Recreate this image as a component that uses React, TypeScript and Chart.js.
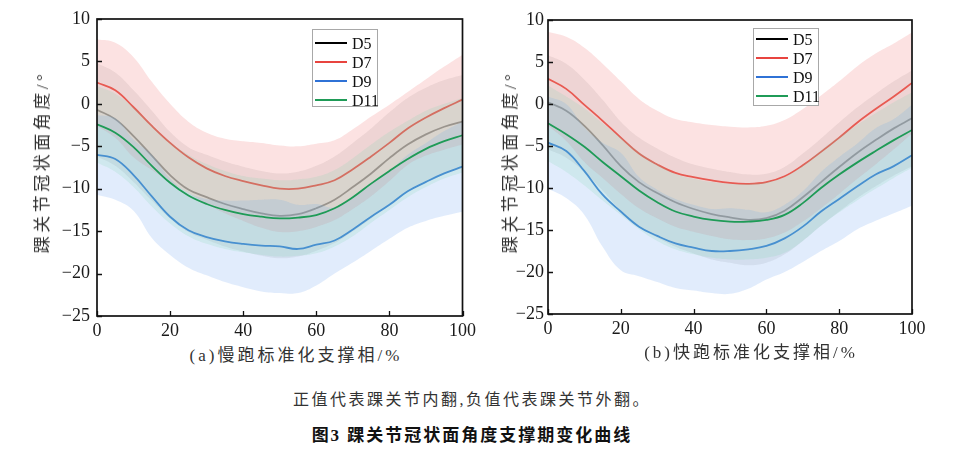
import React, { useEffect, useRef } from 'react';
import { Chart, registerables } from 'chart.js';

Chart.register(...registerables);

// ---------- data ----------
const PHASE = [0, 5, 10, 15, 20, 25, 30, 35, 40, 45, 50, 55, 60, 65, 70, 75, 80, 85, 90, 95, 100];
const X_TICKS = [0, 20, 40, 60, 80, 100];
const Y_TICKS = [10, 5, 0, -5, -10, -15, -20, -25];
const SERIES_NAMES = ['D5', 'D7', 'D9', 'D11'];

// (a) slow running – mean and spread
const SLOW_D5 = [-0.7, -1.8, -3.8, -6.1, -8.4, -10.1, -11.0, -11.8, -12.4, -12.9, -13.2, -13.0, -12.3, -11.3, -9.8, -8.2, -6.4, -4.8, -3.6, -2.7, -2.1];
const SLOW_D5_SD = [5.5, 5.5, 5.4, 5.3, 5.1, 5.0, 5.0, 5.0, 5.0, 5.0, 5.0, 5.0, 5.0, 5.1, 5.2, 5.3, 5.4, 5.5, 5.5, 5.5, 5.5];
const SLOW_D7 = [2.5, 1.6, -0.4, -2.6, -4.6, -6.3, -7.6, -8.5, -9.1, -9.6, -10.0, -10.0, -9.6, -9.0, -7.7, -6.2, -4.6, -2.9, -1.6, -0.5, 0.5];
const SLOW_D7_SD = [5.1, 5.6, 5.9, 5.2, 4.6, 4.2, 4.2, 4.4, 4.7, 5.0, 5.1, 5.0, 4.9, 4.7, 4.7, 4.7, 4.5, 4.3, 4.5, 4.9, 5.3];
const SLOW_D9 = [-6.0, -6.5, -8.4, -10.9, -13.3, -14.9, -15.7, -16.2, -16.5, -16.7, -16.8, -17.1, -16.6, -16.1, -14.8, -13.3, -11.9, -10.3, -9.2, -8.2, -7.4];
const SLOW_D9_SD = [4.7, 4.8, 4.2, 4.9, 4.5, 4.4, 4.5, 4.8, 5.1, 5.4, 5.5, 5.2, 4.8, 3.9, 3.9, 4.0, 4.0, 4.3, 4.6, 5.0, 5.3];
const SLOW_D11 = [-2.4, -3.4, -5.1, -7.3, -9.3, -10.8, -11.8, -12.5, -13.0, -13.3, -13.5, -13.4, -13.1, -12.3, -11.0, -9.4, -7.9, -6.5, -5.3, -4.4, -3.7];
const SLOW_D11_SD = [4.5, 4.6, 4.7, 4.8, 4.8, 4.8, 4.7, 4.6, 4.5, 4.5, 4.5, 4.5, 4.5, 4.5, 4.6, 4.6, 4.6, 4.5, 4.5, 4.4, 4.4];

// (b) fast running – mean and spread
const FAST_D5 = [0.2, -0.8, -2.6, -4.9, -7.4, -9.3, -10.6, -11.7, -12.5, -13.1, -13.5, -13.8, -13.6, -12.7, -11.1, -9.3, -7.5, -5.8, -4.3, -2.9, -1.7];
const FAST_D5_SD = [5.6, 5.6, 5.5, 5.4, 5.3, 5.3, 5.3, 5.3, 5.3, 5.4, 5.4, 5.4, 5.3, 5.2, 5.2, 5.2, 5.3, 5.4, 5.5, 5.6, 5.7];
const FAST_D7 = [3.0, 1.8, -0.1, -2.0, -4.0, -5.9, -7.2, -8.2, -8.7, -9.1, -9.4, -9.5, -9.3, -8.6, -7.3, -5.7, -4.0, -2.2, -0.6, 0.9, 2.5];
const FAST_D7_SD = [5.6, 6.2, 6.8, 6.8, 6.7, 6.5, 6.4, 6.4, 6.5, 6.6, 6.7, 6.7, 6.7, 6.7, 6.7, 6.7, 6.7, 6.7, 6.6, 6.3, 6.0];
const FAST_D9 = [-4.6, -5.6, -8.0, -10.8, -12.8, -14.6, -15.7, -16.6, -17.1, -17.5, -17.5, -17.3, -16.9, -16.0, -14.6, -12.8, -11.3, -9.8, -8.4, -7.4, -6.1];
const FAST_D9_SD = [5.5, 5.6, 5.2, 6.2, 7.0, 5.9, 5.5, 5.3, 5.1, 5.0, 5.1, 4.7, 4.0, 4.0, 4.2, 4.7, 5.0, 5.1, 5.5, 5.6, 6.0];
const FAST_D11 = [-2.3, -3.6, -5.1, -6.9, -8.6, -10.3, -11.7, -12.8, -13.4, -13.8, -14.0, -14.0, -13.8, -13.2, -11.8, -10.0, -8.4, -6.95, -5.6, -4.3, -3.1];
const FAST_D11_SD = [4.5, 4.5, 4.6, 4.6, 4.6, 4.6, 4.6, 4.5, 4.5, 4.5, 4.5, 4.5, 4.5, 4.5, 4.5, 4.5, 4.5, 4.5, 4.5, 4.5, 4.5];

// ---------- styles ----------
const LEGEND_COLORS = ['#000000', '#e8443f', '#2f72d6', '#1f9b57'];
const LINE_COLORS = ['#8e8e8e', '#e85a52', '#3d82d8', '#1f9b57'];
const BAND_COLORS = [
  'rgba(110,110,110,0.12)',
  'rgba(240,110,110,0.20)',
  'rgba(120,170,240,0.22)',
  'rgba(120,210,170,0.18)',
];
const SERIF = '"Liberation Serif", "Times New Roman", "Noto Sans CJK SC", serif';
const TEXT_FONT = '"Liberation Serif", "Noto Sans CJK SC", serif';

const pts = (ys: number[]) => PHASE.map((x, i) => ({ x, y: ys[i] }));

const framePlugin = {
  id: 'frameTicks',
  afterDraw(chart: any) {
    const { ctx, chartArea, scales } = chart;
    const { left, right, top, bottom } = chartArea;
    const xs = scales.x;
    const ys = scales.y;
    ctx.save();
    ctx.strokeStyle = '#111';
    ctx.lineWidth = 1.3;
    ctx.beginPath();
    xs.ticks.forEach((t: any) => {
      const px = Math.round(xs.getPixelForValue(t.value)) + 0.5;
      ctx.moveTo(px, bottom);
      ctx.lineTo(px, bottom - 5);
    });
    ys.ticks.forEach((t: any) => {
      const py = Math.round(ys.getPixelForValue(t.value)) + 0.5;
      ctx.moveTo(left, py);
      ctx.lineTo(left + 5, py);
    });
    ctx.stroke();
    ctx.lineWidth = 1.7;
    ctx.strokeRect(left, top, right - left, bottom - top);
    ctx.restore();
  },
};

type PanelProps = {
  means: number[][];
  sds: number[][];
  left: number;
  width: number;
  height: number;
  area: { left: number; top: number; right: number; bottom: number };
  yPad: number;
};

function ChartPanel({ means, sds, left, width, height, area, yPad }: PanelProps) {
  const ref = useRef<HTMLCanvasElement | null>(null);
  useEffect(() => {
    if (!ref.current) return;
    const datasets: any[] = [];
    means.forEach((m, s) => {
      const base = (means.length - 1 - s) * 2;
      const lower = m.map((v, i) => v - sds[s][i]);
      const upper = m.map((v, i) => v + sds[s][i]);
      datasets.push({
        label: SERIES_NAMES[s] + ' lower',
        data: pts(lower),
        borderWidth: 0,
        pointRadius: 0,
        fill: false,
        tension: 0.4,
        order: base + 1,
      });
      datasets.push({
        label: SERIES_NAMES[s] + ' upper',
        data: pts(upper),
        borderWidth: 0,
        pointRadius: 0,
        backgroundColor: BAND_COLORS[s],
        fill: '-1',
        tension: 0.4,
        order: base + 1,
      });
      datasets.push({
        label: SERIES_NAMES[s],
        data: pts(m),
        borderColor: LINE_COLORS[s],
        borderWidth: 1.8,
        pointRadius: 0,
        fill: false,
        tension: 0.4,
        order: base,
      });
    });
    const chart = new Chart(ref.current, {
      type: 'line',
      data: { datasets },
      plugins: [framePlugin],
      options: {
        animation: false,
        responsive: false,
        maintainAspectRatio: false,
        layout: { padding: { left: 0, top: area.top, right: width - area.right, bottom: 0 } },
        plugins: {
          legend: { display: false },
          tooltip: { enabled: false },
          filler: { propagate: false },
        },
        scales: {
          x: {
            type: 'linear',
            min: 0,
            max: 100,
            grid: { display: false, drawTicks: false },
            border: { display: false },
            afterBuildTicks: (s: any) => {
              s.ticks = X_TICKS.map((v) => ({ value: v }));
            },
            afterFit: (s: any) => {
              s.height = height - area.bottom;
            },
            ticks: {
              padding: 4,
              color: '#1a1a1a',
              font: { family: SERIF, size: 18 },
              callback: (v: any) => String(v),
            },
          },
          y: {
            type: 'linear',
            min: -25,
            max: 10,
            grid: { display: false, drawTicks: false },
            border: { display: false },
            afterBuildTicks: (s: any) => {
              s.ticks = Y_TICKS.map((v) => ({ value: v }));
            },
            afterFit: (s: any) => {
              s.width = area.left;
            },
            ticks: {
              padding: yPad,
              color: '#1a1a1a',
              font: { family: SERIF, size: 18 },
              callback: (v: any) => String(v).replace('-', '\u2212'),
            },
          },
        },
      },
    });
    return () => chart.destroy();
  }, []);
  return (
    <canvas
      ref={ref}
      width={width}
      height={height}
      style={{ position: 'absolute', left, top: 0, width, height }}
    />
  );
}

function Legend({ left, top, rowTop }: { left: number; top: number; rowTop: number }) {
  return (
    <div
      style={{
        position: 'absolute',
        left,
        top,
        width: 66,
        height: 78,
        border: '1px solid #a8a8a8',
        boxSizing: 'border-box',
        background: '#fff',
      }}
    >
      {SERIES_NAMES.map((n, i) => (
        <div
          key={n}
          style={{
            position: 'absolute',
            left: 2,
            top: rowTop + i * 19,
            height: 19,
            display: 'flex',
            alignItems: 'center',
          }}
        >
          <span style={{ display: 'inline-block', width: 32, height: 0, borderTop: `2.5px solid ${LEGEND_COLORS[i]}` }} />
          <span style={{ marginLeft: 5, fontFamily: SERIF, fontSize: 16, color: '#111', lineHeight: '19px' }}>{n}</span>
        </div>
      ))}
    </div>
  );
}

function YTitle({ cx, cy }: { cx: number; cy: number }) {
  return (
    <div
      style={{
        position: 'absolute',
        left: cx,
        top: cy,
        transform: 'translate(-50%, -50%) rotate(-90deg)',
        whiteSpace: 'nowrap',
        fontFamily: TEXT_FONT,
        fontSize: 17,
        letterSpacing: 3.5,
        color: '#333',
        lineHeight: '20px',
      }}
    >
      踝关节冠状面角度/°
    </div>
  );
}

function XTitle({ cx, cy, text }: { cx: number; cy: number; text: string }) {
  return (
    <div
      style={{
        position: 'absolute',
        left: cx,
        top: cy,
        transform: 'translate(-50%, -50%)',
        whiteSpace: 'nowrap',
        fontFamily: TEXT_FONT,
        fontSize: 17,
        letterSpacing: 3,
        color: '#333',
        lineHeight: '20px',
      }}
    >
      {text}
    </div>
  );
}

export default function App() {
  return (
    <div style={{ position: 'absolute', left: 0, top: 0, width: 960, height: 458, background: '#fff', overflow: 'hidden' }}>
      <ChartPanel
        means={[SLOW_D5, SLOW_D7, SLOW_D9, SLOW_D11]}
        sds={[SLOW_D5_SD, SLOW_D7_SD, SLOW_D9_SD, SLOW_D11_SD]}
        left={0}
        width={480}
        height={345}
        area={{ left: 97, top: 19, right: 464, bottom: 316 }}
        yPad={7}
      />
      <ChartPanel
        means={[FAST_D5, FAST_D7, FAST_D9, FAST_D11]}
        sds={[FAST_D5_SD, FAST_D7_SD, FAST_D9_SD, FAST_D11_SD]}
        left={480}
        width={480}
        height={345}
        area={{ left: 68, top: 20, right: 432, bottom: 314 }}
        yPad={4}
      />
      <Legend left={312} top={29} rowTop={3.5} />
      <Legend left={753} top={28} rowTop={0.5} />
      <YTitle cx={43} cy={162} />
      <YTitle cx={511} cy={162} />
      <XTitle cx={296} cy={356} text="(a)慢跑标准化支撑相/%" />
      <XTitle cx={751} cy={353} text="(b)快跑标准化支撑相/%" />
      <div
        style={{
          position: 'absolute',
          left: 472,
          top: 398,
          transform: 'translate(-50%, -50%)',
          whiteSpace: 'nowrap',
          fontFamily: TEXT_FONT,
          fontSize: 16,
          letterSpacing: 2.5,
          color: '#333',
        }}
      >
        正值代表踝关节内翻,负值代表踝关节外翻。
      </div>
      <div
        style={{
          position: 'absolute',
          left: 472,
          top: 433,
          transform: 'translate(-50%, -50%)',
          whiteSpace: 'nowrap',
          fontFamily: TEXT_FONT,
          fontSize: 17,
          fontWeight: 'bold',
          letterSpacing: 2,
          color: '#111',
        }}
      >
        图3 踝关节冠状面角度支撑期变化曲线
      </div>
    </div>
  );
}
